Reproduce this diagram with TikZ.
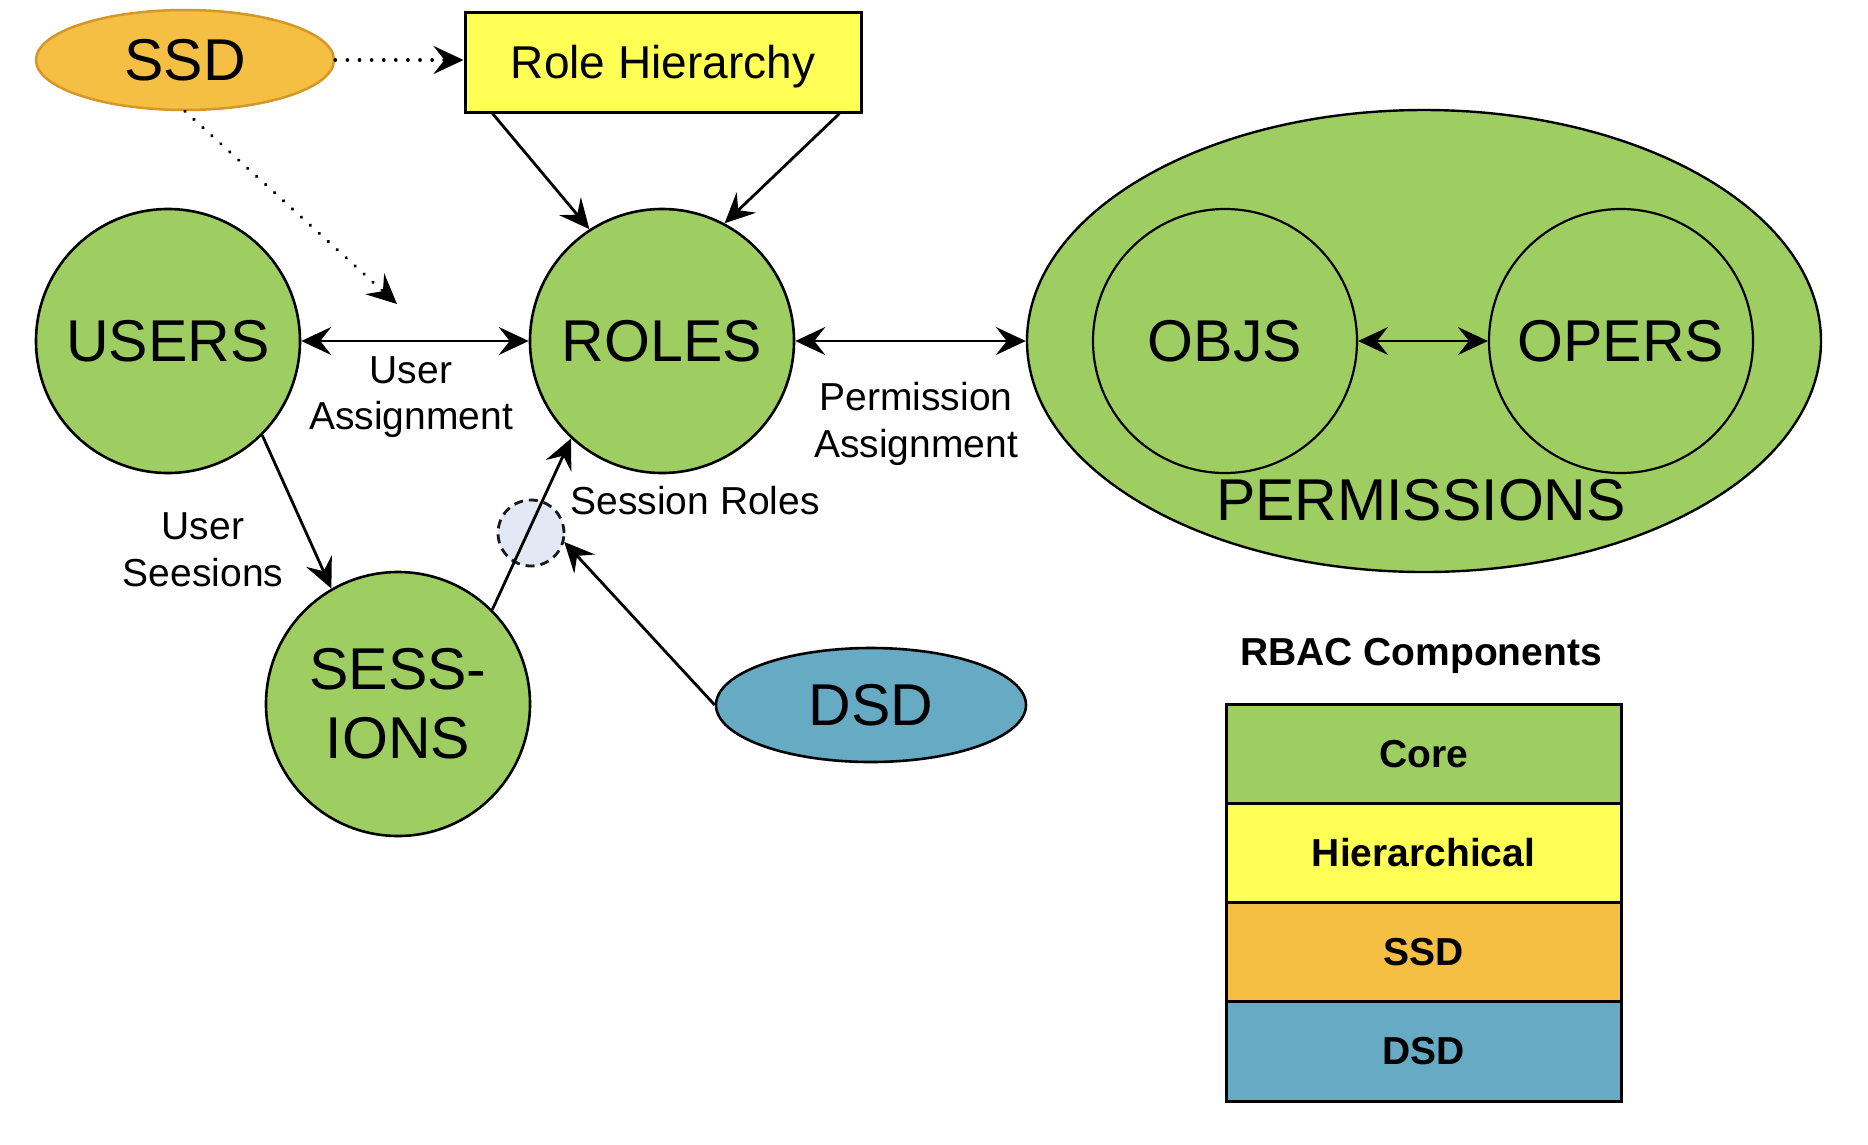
\documentclass[tikz,border=0pt]{standalone}
\usepackage{fontspec}
\setmainfont{Liberation Sans}
\usetikzlibrary{shapes.geometric,arrows.meta}
\definecolor{cgreen}{RGB}{158,206,98}
\definecolor{cyellow}{RGB}{255,255,85}
\definecolor{corange}{RGB}{244,191,66}
\definecolor{corangedk}{RGB}{214,150,40}
\definecolor{cblue}{RGB}{102,170,196}
\definecolor{cgrey}{RGB}{226,233,245}
\tikzset{
  bigtxt/.style={font=\fontsize{59}{69}\selectfont},
  midtxt/.style={font=\fontsize{46}{55}\selectfont},
  smalltxt/.style={font=\fontsize{39}{46.5}\selectfont, align=center},
  legtxt/.style={font=\fontsize{39}{46}\selectfont\bfseries},
  gcircle/.style={circle, draw=black, line width=2.6pt, fill=cgreen, minimum size=264pt, inner sep=0pt, bigtxt},
  bigtip/.tip={Stealth[length=30pt,width=28pt,inset=11pt]},
  arr/.style={line width=2.8pt, -bigtip},
  darr/.style={line width=2.8pt, bigtip-bigtip},
  dotarr/.style={line width=3.6pt, line cap=round, dash pattern=on 0.1pt off 12pt, -bigtip},
  legbox/.style={rectangle, draw=black, line width=3pt, outer sep=0pt, minimum width=395pt, minimum height=99.3pt, inner sep=0pt, legtxt},
}
\begin{document}
\begin{tikzpicture}[x=1pt,y=-1pt]
\useasboundingbox (0,0) rectangle (1868,1144);
\fill[white] (0,0) rectangle (1868,1144);

% top row
\node[ellipse, draw=corangedk, line width=2.5pt, fill=corange, minimum width=298pt, minimum height=100pt, inner sep=0pt, bigtxt] (ssd) at (185,60) {SSD};
\node[rectangle, draw=black, line width=3pt, fill=cyellow, minimum width=396pt, minimum height=100pt, inner sep=0pt, midtxt, text height=33pt, text depth=0pt] (rh) at (663,62) {Role Hierarchy};

% main circles
\node[gcircle] (users) at (168,341) {USERS};
\node[gcircle] (roles) at (662,341) {ROLES};
\node[gcircle, align=center] (sess) at (398,704) {SESS-\\IONS};

% permissions
\node[ellipse, draw=black, line width=2.4pt, fill=cgreen, minimum width=794pt, minimum height=462pt, inner sep=0pt] (perm) at (1424,341) {};
\node[circle, draw=black, line width=2.2pt, fill=cgreen, minimum size=264pt, inner sep=0pt, bigtxt] (objs) at (1225,341) {OBJS};
\node[circle, draw=black, line width=2.2pt, fill=cgreen, minimum size=264pt, inner sep=0pt, bigtxt] (opers) at (1621,341) {OPERS};
\node[bigtxt] (permtxt) at (1421,500) {PERMISSIONS};

% DSD and dashed junction
\node[ellipse, draw=black, line width=2.6pt, fill=cblue, minimum width=310pt, minimum height=114pt, inner sep=0pt, bigtxt] (dsd) at (871,705) {DSD};
\node[circle, draw=black!90, line width=2.8pt, dash pattern=on 9pt off 6pt, fill=cgrey, minimum size=66pt, inner sep=0pt] (dsh) at (531,533) {};

\coordinate (ssdend) at (397,304);

% connectors
\draw[dotarr] (ssd.east) -- (rh.west |- ssd.east);
\draw[dotarr] (ssd.south) -- (ssdend);
\draw[arr] ([xshift=29pt]rh.south west) -- (roles.123);
\draw[arr] ([xshift=-23pt]rh.south east) -- (roles.62);
\draw[darr] (users.east) -- (roles.west);
\draw[darr] (roles.east) -- (perm.west);
\draw[darr] (objs.east) -- (opers.west);
\draw[arr] (users.-45) -- (sess.120);
\draw[arr] (sess.45) -- (roles.227);
\draw[arr] (dsd.west) -- (dsh.-15);

% labels
\node[smalltxt] (lua) at (411,397) {User\\Assignment};
\node[smalltxt] (lpa) at (916,424) {Permission\\Assignment};
\node[smalltxt, anchor=west] (lsr) at (567,501) {Session Roles};
\node[smalltxt] (lus) at (203,550) {User\\Seesions};

% legend
\node[legtxt] (legt) at (1421,656) {RBAC Components};
\node[legbox, fill=cgreen, anchor=north] (lcore) at (1423.5,704) {Core};
\node[legbox, fill=cyellow, anchor=north] (lhier) at (lcore.south) {Hierarchical};
\node[legbox, fill=corange, anchor=north] (lssd) at (lhier.south) {SSD};
\node[legbox, fill=cblue, anchor=north] (ldsd) at (lssd.south) {DSD};
\end{tikzpicture}
\end{document}
